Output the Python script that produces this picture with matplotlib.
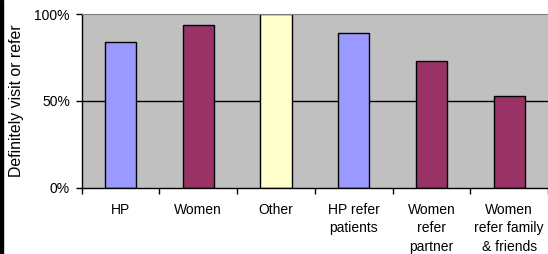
import matplotlib.pyplot as plt
from matplotlib.patches import Rectangle
from matplotlib.ticker import FuncFormatter
import numpy as np

categories = ["HP", "Women", "Other", "HP refer\npatients", "Women\nrefer\npartner",
              "Women\nrefer family\n& friends"]
values = [84, 94, 100, 89, 73, 53]
colors = ["#9999FF", "#993366", "#FFFFCC", "#9999FF", "#993366", "#993366"]

plt.rcParams["font.family"] = ["Liberation Sans", "DejaVu Sans"]

fig = plt.figure(figsize=(5.48, 2.54), dpi=100)
ax = fig.add_axes([0.149, 0.261, 0.851, 0.683])
fig.patches.append(Rectangle((0, 0), 3 / 548, 1, transform=fig.transFigure,
                             color="black", zorder=10))

x = np.arange(len(categories))
ax.set_facecolor("#C0C0C0")
ax.axhline(50, color="black", lw=1, zorder=1)
ax.bar(x, values, width=0.4, color=colors, edgecolor="black", lw=1, zorder=2)

ax.set_xlim(-0.5, len(categories) - 0.5)
ax.set_ylim(0, 100)
ax.set_yticks([0, 50, 100])
ax.yaxis.set_major_formatter(FuncFormatter(lambda v, p: f"{v:.0f}%"))
ax.tick_params(axis="y", length=4, width=1, pad=4.5, labelsize=10)

ax.set_xticks(x)
ax.set_xticklabels(categories, linespacing=1.4)
ax.set_xticks(np.arange(-0.5, len(categories)), minor=True)
ax.tick_params(axis="x", which="major", length=0, pad=11, labelsize=10)
ax.tick_params(axis="x", which="minor", length=4, width=1)

ax.spines["right"].set_visible(False)
ax.spines["top"].set_color("#808080")
for s in ["left", "bottom"]:
    ax.spines[s].set_color("black")
    ax.spines[s].set_linewidth(1)

ax.set_ylabel("Definitely visit or refer", fontsize=11.4)
ax.yaxis.set_label_coords(-0.124, 0.5)

fig.savefig("out.png", dpi=100)
